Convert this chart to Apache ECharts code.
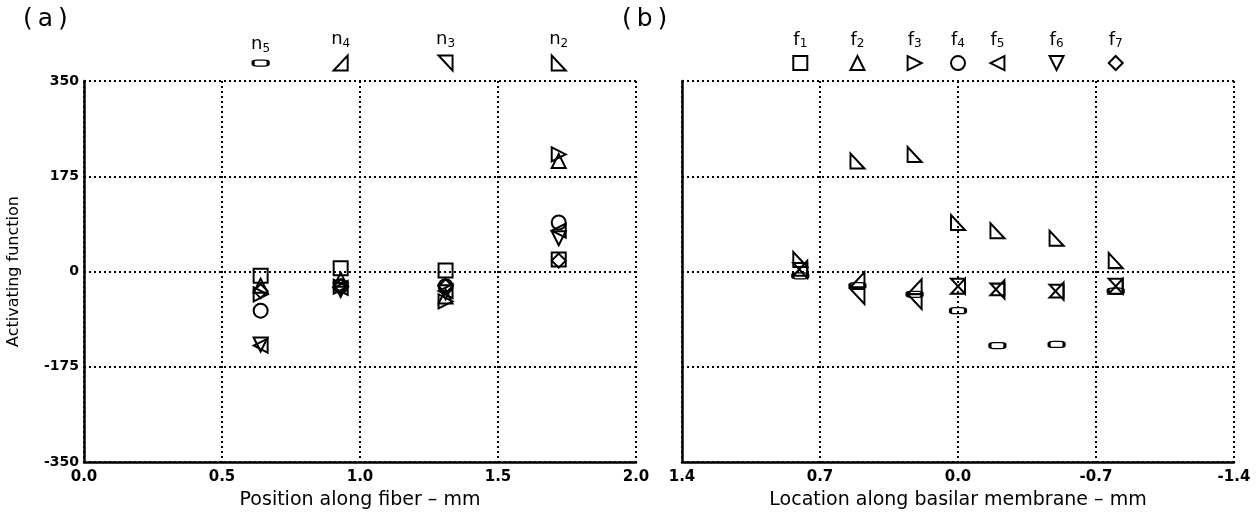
<!DOCTYPE html>
<html>
<head>
<meta charset="utf-8">
<script src="https://cdn.jsdelivr.net/npm/echarts@6/dist/echarts.min.js"></script>
<style>body{margin:0;background:#fff;}</style>
</head>
<body>
<div id="chart" style="width:1259px;height:512px;"></div>
<script>
// nodes n5..n2 along the fiber (panel a)
const nodeNames = ['5', '4', '3', '2'];
const nodePos = [0.64, 0.93, 1.31, 1.72];
// frequencies f1..f7 and where they sit on the basilar membrane (panel b)
const freqNames = ['1', '2', '3', '4', '5', '6', '7'];
const freqPos = [0.80, 0.51, 0.22, 0.0, -0.20, -0.50, -0.80];

// activating function, one value per frequency f1..f7
const actN5 = [-8, -26, -42, -72, -136, -134, -36];
const actN4 = [6, -15, -28, -27, -30, -34, -27];
const actN3 = [2, -46, -55, -27, -36, -38, -27];
const actN2 = [22, 203, 215, 90, 75, 61, 20];
const actByNode = [actN5, actN4, actN3, actN2];

// symbol row above the plots
const keyY = 383;

// marker shapes (f -> panel a markers, n -> panel b markers)
const freqSym = [
  { symbol: 'rect', rot: 0 },
  { symbol: 'triangle', rot: 0 },
  { symbol: 'triangle', rot: -90 },
  { symbol: 'circle', rot: 0 },
  { symbol: 'triangle', rot: 90 },
  { symbol: 'triangle', rot: 180 },
  { symbol: 'diamond', rot: 0 }
];
const nodeSym = [
  { symbol: 'roundRect', size: [15, 6] },
  { symbol: 'path://M10,0 L10,10 L0,10 Z', size: [14, 15] },
  { symbol: 'path://M0,0 L10,0 L10,10 Z', size: [14, 15] },
  { symbol: 'path://M0,0 L0,10 L10,10 Z', size: [14, 15] }
];

const chart = echarts.init(document.getElementById('chart'));
const font = 'DejaVu Sans';
const hollow = { color: 'transparent', borderColor: '#000', borderWidth: 2, opacity: 1 };

const dotted = { color: '#000', width: 2, type: [2, 3] };
function xAx(idx, min, max, step, inverse, name) {
  return {
    gridIndex: idx, type: 'value', min: min, max: max, interval: step, inverse: inverse,
    name: name, nameLocation: 'middle', nameGap: 29,
    nameTextStyle: { fontFamily: font, fontSize: 19, color: '#000' },
    axisLine: { onZero: false, lineStyle: { color: '#000', width: 2.5 } },
    axisTick: { show: false },
    axisLabel: { fontFamily: font, fontSize: 15, fontWeight: 'bold', color: '#000', margin: 8,
      formatter: v => v.toFixed(1) },
    splitLine: { show: true, lineStyle: dotted }
  };
}
function yAx(idx, showLabels) {
  return {
    gridIndex: idx, type: 'value', min: -350, max: 350, interval: 175,
    name: showLabels ? 'Activating function' : '', nameLocation: 'middle', nameGap: 62,
    nameTextStyle: { fontFamily: font, fontSize: 16, color: '#000' },
    axisLine: { onZero: false, lineStyle: { color: '#000', width: 2.5 } },
    axisTick: { show: false },
    axisLabel: { show: showLabels, fontFamily: font, fontSize: 14, fontWeight: 'bold', color: '#000', margin: 5 },
    splitLine: { show: true, lineStyle: dotted }
  };
}

function keyLabel(letter) {
  return {
    show: true, position: 'top', distance: 5,
    formatter: p => '{a|' + letter + '}{b|' + p.name + '}',
    rich: {
      a: { fontFamily: font, fontSize: 18, color: '#000', lineHeight: 20 },
      b: { fontFamily: font, fontSize: 12, color: '#000', lineHeight: 20, verticalAlign: 'bottom', padding: [8, 0, 0, 0] }
    }
  };
}

const series = [];
// panel a: one series per frequency, points at the nodes
freqNames.forEach((f, i) => {
  series.push({
    type: 'scatter', xAxisIndex: 0, yAxisIndex: 0,
    symbol: freqSym[i].symbol, symbolRotate: freqSym[i].rot, symbolSize: 14,
    itemStyle: hollow,
    data: nodePos.map((x, j) => [x, actByNode[j][i]])
  });
});
// panel b: one series per node, points at the frequencies
nodeNames.forEach((n, j) => {
  series.push({
    type: 'scatter', xAxisIndex: 1, yAxisIndex: 1,
    symbol: nodeSym[j].symbol, symbolSize: nodeSym[j].size,
    itemStyle: hollow,
    data: freqPos.map((x, i) => [x, actByNode[j][i]])
  });
});
// symbol keys above each panel
series.push({
  type: 'scatter', xAxisIndex: 0, yAxisIndex: 0, clip: false,
  itemStyle: hollow, label: keyLabel('n'),
  data: nodeNames.map((n, j) => ({
    name: n, value: [nodePos[j], keyY], symbol: nodeSym[j].symbol, symbolSize: nodeSym[j].size
  }))
});
series.push({
  type: 'scatter', xAxisIndex: 1, yAxisIndex: 1, clip: false,
  itemStyle: hollow, label: keyLabel('f'),
  data: freqNames.map((f, i) => ({
    name: f, value: [freqPos[i], keyY], symbol: freqSym[i].symbol,
    symbolRotate: freqSym[i].rot, symbolSize: 14
  }))
});

const option = {
  animation: false,
  backgroundColor: '#fff',
  title: [
    { text: '(\u2009a\u2009)', left: 18, top: 2, textStyle: { fontFamily: font, fontSize: 25, fontWeight: 'normal', color: '#000' } },
    { text: '(\u2009b\u2009)', left: 617, top: 2, textStyle: { fontFamily: font, fontSize: 25, fontWeight: 'normal', color: '#000' } }
  ],
  grid: [
    { left: 84, top: 81, width: 552, height: 381, outerBoundsMode: 'none' },
    { left: 682, top: 81, width: 552, height: 381, outerBoundsMode: 'none' }
  ],
  xAxis: [
    xAx(0, 0, 2, 0.5, false, 'Position along fiber \u2013 mm'),
    xAx(1, -1.4, 1.4, 0.7, true, 'Location along basilar membrane \u2013 mm')
  ],
  yAxis: [yAx(0, true), yAx(1, false)],
  series: series
};

chart.setOption(option);
</script>
</body>
</html>
